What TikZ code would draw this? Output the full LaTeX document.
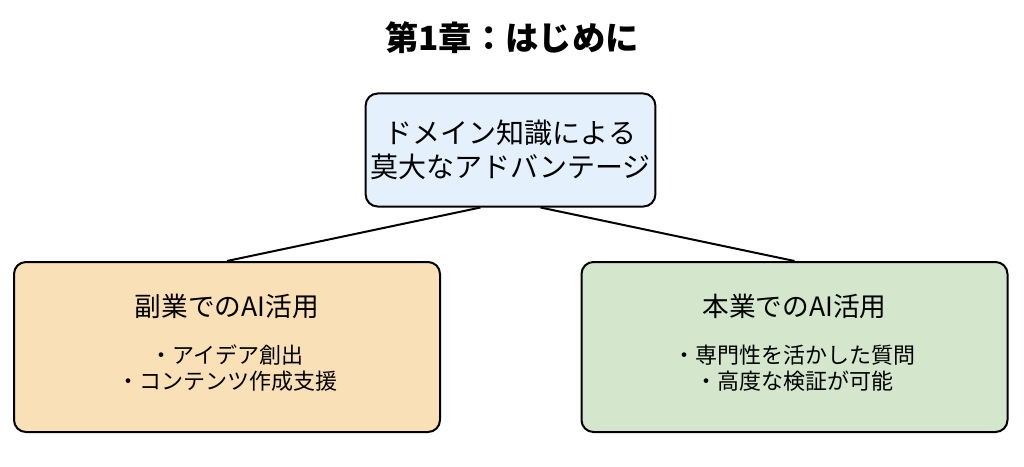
\documentclass[tikz,border=0pt]{standalone}
\usepackage{fontspec}
\setmainfont{Noto Sans CJK JP}
\usetikzlibrary{calc}
\definecolor{topfill}{HTML}{E4F1FC}
\definecolor{leftfill}{HTML}{F9E0B6}
\definecolor{rightfill}{HTML}{D4E7CD}
\tikzset{
  box/.style={draw=black, line width=1.5pt, rounded corners=9pt},
  head/.style={font=\fontsize{20}{24}\selectfont},
  item/.style={font=\fontsize{16.5}{19.5}\selectfont, align=center}
}
\begin{document}
\begin{tikzpicture}[x=0.75pt, y=-0.75pt]
\useasboundingbox (0,0) rectangle (1024,467);

% Title
\node[font=\fontsize{25}{30}\selectfont\bfseries] (title) at (512,38) {第1章：はじめに};

% Boxes
\node[box, fill=topfill, minimum width=213.75pt, minimum height=84.75pt,
  align=center, font=\fontsize{21}{26}\selectfont] (top) at (510.5,150)
  {ドメイン知識による\\莫大なアドバンテージ};
\node[box, fill=leftfill, minimum width=319.5pt, minimum height=127.5pt] (side) at (227,347) {};
\node[box, fill=rightfill, minimum width=319.5pt, minimum height=127.5pt] (main) at (794.5,347) {};

% Texts
\node[head] (sidehead) at (227,306) {副業でのAI活用};
\node[item] (sideitems) at (227,368) {・アイデア創出\\・コンテンツ作成支援};
\node[head] (mainhead) at (794.5,306) {本業でのAI活用};
\node[item] (mainitems) at (794.5,368) {・専門性を活かした質問\\・高度な検証が可能};

% Connectors
\draw[line width=1.5pt] ($(top.south)+(-30,0)$) -- (side.north);
\draw[line width=1.5pt] ($(top.south)+(30,0)$) -- (main.north);
\end{tikzpicture}
\end{document}
